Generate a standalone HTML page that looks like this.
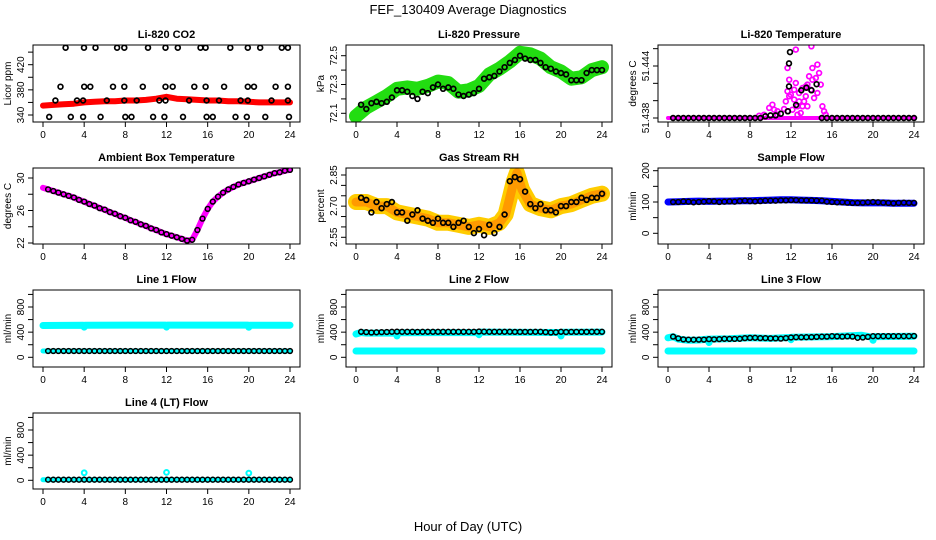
<!DOCTYPE html>
<html><head><meta charset="utf-8"><style>
html,body{margin:0;padding:0;background:#fff;}
svg{display:block;font-family:"Liberation Sans",Arial,sans-serif;}
</style></head><body>
<svg id="chart" width="936" height="540" viewBox="0 0 936 540" xmlns="http://www.w3.org/2000/svg">
<rect x="0" y="0" width="936" height="540" fill="#fff"/>
<text x="468" y="14" font-size="13" text-anchor="middle">FEF_130409  Average Diagnostics</text>
<text x="468" y="531" font-size="13" text-anchor="middle">Hour of Day (UTC)</text>
</svg>
<script>
// ---- shared data ----
const xTicks=[0,4,8,12,16,20,24];
const H48=[0.5,1,1.5,2,2.5,3,3.5,4,4.5,5,5.5,6,6.5,7,7.5,8,8.5,9,9.5,10,10.5,11,11.5,12,12.5,13,13.5,14,14.5,15,15.5,16,16.5,17,17.5,18,18.5,19,19.5,20,20.5,21,21.5,22,22.5,23,23.5,24];
const hourly=[0,1,2,3,4,5,6,7,8,9,10,11,12,13,14,15,16,17,18,19,20,21,22,23,24];

// CO2
const co2BandV=[355,356,357,358,360,361,362,362,363,363,364,366,369,366,365,364,363,363,362,362,361,360,360,360,360];
const co2H447=[2.2,3.98,5.1,7.2,7.9,10.2,11.9,13.1,15.3,15.8,18.2,19.9,21.1,23.2,23.8];
const co2H385=[1.7,4.0,4.6,6.8,7.9,9.7,11.9,12.6,14.7,15.8,17.6,19.9,20.5,22.6,23.8];
const co2H363=[1.2,3.3,3.9,6.2,7.9,9.1,11.3,11.9,14.2,15.9,17.1,19.2,19.9,22.2,23.8];
const co2H337=[0.6,2.7,3.9,5.6,8.0,8.6,10.7,11.8,13.6,15.9,16.5,18.7,19.8,21.6,23.9];
const co2Levels=[447,385,363,337];

// Pressure
const presBandV=[72.08,72.14,72.18,72.22,72.27,72.28,72.27,72.29,72.32,72.31,72.25,72.26,72.29,72.37,72.41,72.46,72.52,72.51,72.48,72.42,72.39,72.34,72.35,72.40,72.42];
const presV=[72.16,72.13,72.17,72.18,72.17,72.18,72.21,72.26,72.26,72.25,72.22,72.20,72.25,72.24,72.28,72.30,72.27,72.28,72.27,72.23,72.22,72.23,72.24,72.27,72.34,72.35,72.36,72.39,72.42,72.45,72.47,72.50,72.48,72.47,72.47,72.45,72.42,72.41,72.39,72.38,72.37,72.33,72.33,72.33,72.38,72.40,72.40,72.40];

// Li-820 Temperature
const tempMagH=[8.9,9.87,10.19,10.36,10.68,11.33,11.49,11.66,11.66,11.82,11.98,12.14,12.31,12.47,12.63,12.79,12.95,13.12,13.28,13.44,13.60,13.77,13.93,13.99,14.09,14.25,14.42,14.58,14.74,14.90,15.06,15.23,15.39,12.47,12.63,10.68,9.38,14.58,13.12,12.31,11.82,12.79,13.60,14.09,13.44,11.66];
const tempMagV=[51.43827,51.43916,51.43954,51.43896,51.43877,51.43904,51.43992,51.44108,51.44377,51.44242,51.44069,51.43896,51.44012,51.44204,51.43935,51.44088,51.43858,51.44146,51.43992,51.44050,51.44185,51.44281,51.44127,51.44627,51.44377,51.44031,51.44262,51.44416,51.44319,51.44185,51.43935,51.43877,51.43838,51.44589,51.43838,51.43838,51.43838,51.44088,51.43935,51.44127,51.44050,51.43992,51.43935,51.44242,51.44165,51.43877];
const tempBlkH=[0.5,1,1.5,2,2.5,3,3.5,4,4.5,5,5.5,6,6.5,7,7.5,8,8.5,9,9.5,10,10.5,11,11.7,11.8,11.8,11.9,12.5,13,13.5,14,14.5,15,15.5,16,16.5,17,17.5,18,18.5,19,19.5,20,20.5,21,21.5,22,22.5,23,23.5,24];
const tempBlkV=[51.438,51.438,51.438,51.438,51.438,51.438,51.438,51.438,51.438,51.438,51.438,51.438,51.438,51.438,51.438,51.438,51.438,51.438,51.4382,51.4383,51.4383,51.4385,51.43877,51.44165,51.4443,51.4456,51.4395,51.4412,51.4415,51.4412,51.4419,51.438,51.438,51.438,51.438,51.438,51.438,51.438,51.438,51.438,51.438,51.438,51.438,51.438,51.438,51.438,51.438,51.438,51.438,51.438];

// Ambient
const ambBandH=[0,0.5,1,1.5,2,2.5,3,3.5,4,4.5,5,5.5,6,6.5,7,7.5,8,8.5,9,9.5,10,10.5,11,11.5,12,12.5,13,13.5,14,14.5,15,15.5,16,16.5,17,17.5,18,18.5,19,19.5,20,20.5,21,21.5,22,22.5,23,23.5,24];
const ambV=[28.8,28.6,28.4,28.2,28.0,27.8,27.6,27.3,27.1,26.8,26.6,26.3,26.1,25.8,25.6,25.3,25.1,24.8,24.6,24.3,24.1,23.8,23.6,23.3,23.1,22.9,22.7,22.5,22.3,22.4,23.6,25.0,26.2,27.1,27.7,28.2,28.6,28.9,29.2,29.4,29.6,29.8,30.0,30.2,30.4,30.6,30.7,30.9,31.0];

// Gas stream RH
const rhBandH=[0,1,2,3,4,5,6,7,8,9,10,11,12,13,14,14.6,15,15.4,15.7,16.2,17,18,19,20,21,22,23,24];
const rhBandV=[2.72,2.72,2.70,2.70,2.67,2.66,2.65,2.64,2.62,2.62,2.61,2.60,2.61,2.60,2.62,2.66,2.74,2.82,2.86,2.78,2.71,2.69,2.68,2.70,2.71,2.73,2.75,2.76];
const rhV=[2.74,2.73,2.67,2.72,2.69,2.71,2.72,2.67,2.67,2.63,2.66,2.68,2.64,2.63,2.62,2.64,2.62,2.62,2.60,2.62,2.63,2.60,2.57,2.59,2.56,2.61,2.57,2.60,2.66,2.82,2.84,2.83,2.77,2.71,2.69,2.71,2.68,2.68,2.67,2.70,2.70,2.72,2.72,2.74,2.73,2.74,2.74,2.76];

// Sample flow
const sfBandV=[100,101,102,103,102,103,103,104,104,105,106,107,107,106,105,104,102,100,98,97,97,97,96,96,96];
const sfV=[100,100,102,101,99,100,101,103,102,100,101,102,101,103,104,103,102,103,104,104,104,105,105,106,106,105,105,105,104,104,101,100,99,99,98,97,97,98,99,100,99,98,97,96,97,98,97,97];

// Line 1
const l1HiH=[0,3.9,4,4.1,11.9,12,12.1,19.9,20,20.1,24];
const l1HiV=[505,510,480,510,512,480,512,512,478,510,510];
const l1LoV=[100,100,100,100,100,100,100,100,100,100,100,100,100,100,100,100,100,100,100,100,100,100,100,100,100];
const l1V=[100,100,100,100,100,100,100,100,100,100,100,100,100,100,100,100,100,100,100,100,100,100,100,100,100,100,100,100,100,100,100,100,100,100,100,100,100,100,100,100,100,100,100,100,100,100,100,100];
// Line 2
const l2HiH=[0,0.5,1,3.9,4,4.1,11.9,12,12.1,19.9,20,20.1,24];
const l2HiV=[370,395,385,385,340,390,395,360,400,395,340,398,400];
const l2LoV=[100,100,100,100,100,100,100,100,100,100,100,100,100,100,100,100,100,100,100,100,100,100,100,100,100];
const l2V=[405,400,395,398,400,402,405,408,405,405,405,404,405,406,405,405,405,405,406,406,405,406,406,410,407,406,406,405,405,405,404,404,404,404,405,405,400,395,398,405,403,404,404,404,404,405,405,405];
// Line 3
const l3HiH=[0,0.5,1,2,3,3.9,4,4.1,6,8,10,11.9,12,12.1,16,18.9,19.9,20,20.1,24];
const l3HiV=[310,330,290,270,275,290,235,290,295,310,300,315,280,320,330,350,320,270,330,335];
const l3LoV=[100,100,100,100,100,100,100,100,100,100,100,100,100,100,100,100,100,100,100,100,100,100,100,100,100];
const l3V=[330,300,285,280,280,282,282,290,285,290,295,292,293,295,305,308,310,305,305,300,300,298,305,315,320,318,320,322,325,328,330,335,332,330,332,330,310,315,325,335,335,335,335,335,335,335,335,338];
// Line 4
const l4BandV=[10,10,10,10,10,10,10,10,10,10,10,10,10,10,10,10,10,10,10,10,10,10,10,10,10];
const l4OutH=[4,12,20];
const l4OutV=[120,125,115];
const l4V=[10,10,10,10,10,10,10,10,10,10,10,10,10,10,10,10,10,10,10,10,10,10,10,10,10,10,10,10,10,10,10,10,10,10,10,10,10,10,10,10,10,10,10,10,10,10,10,10];

// ---- layout ----
const NS="http://www.w3.org/2000/svg";
const svg=document.getElementById('chart');
const COLS=[{l:33,r:300},{l:346,r:612},{l:658,r:924}];
const ROWS=[{t:45,b:122},{t:168,b:244},{t:290,b:367},{t:413,b:489}];
function mk(tag,attrs,parent){const e=document.createElementNS(NS,tag);for(const k in attrs)e.setAttribute(k,attrs[k]);(parent||svg).appendChild(e);return e;}
function xs(p,h){const c=COLS[p.col];return c.l+10+(h/24)*(c.r-c.l-20);}
function ys(p,v){return p.p0+(v-p.v0)*(p.p1-p.p0)/(p.v1-p.v0);}

const flowTicks=[0,200,400,600,800,1000];
const flowLabels=[0,400,800];
const panels=[
 {id:'co2',title:'Li-820 CO2',ylab:'Licor ppm',col:0,row:0,v0:340,p0:115,v1:420,p1:64.7,yt:[340,360,380,400,420,440],yl:['340','380','420']},
 {id:'pressure',title:'Li-820 Pressure',ylab:'kPa',col:1,row:0,v0:72.1,p0:113.3,v1:72.5,p1:55.7,yt:[72.1,72.2,72.3,72.4,72.5],yl:['72.1','72.3','72.5']},
 {id:'temperature',title:'Li-820 Temperature',ylab:'degrees C',col:2,row:0,v0:51.438,p0:118,v1:51.444,p1:66,yt:[51.438,51.440,51.442,51.444,51.446],yl:['51.438','51.444']},
 {id:'ambient',title:'Ambient Box Temperature',ylab:'degrees C',col:0,row:1,v0:22,p0:243,v1:30,p1:178,yt:[22,24,26,28,30],yl:['22','26','30']},
 {id:'rh',title:'Gas Stream RH',ylab:'percent',col:1,row:1,v0:2.55,p0:237.3,v1:2.85,p1:175,yt:[2.55,2.60,2.65,2.70,2.75,2.80,2.85],yl:['2.55','2.70','2.85']},
 {id:'sample-flow',title:'Sample Flow',ylab:'ml/min',col:2,row:1,v0:0,p0:233.3,v1:200,p1:170.7,yt:[0,50,100,150,200],yl:['0','100','200']},
 {id:'line1',title:'Line 1 Flow',ylab:'ml/min',col:0,row:2,v0:0,p0:357.3,v1:800,p1:307,yt:flowTicks,yl:flowLabels.map(String)},
 {id:'line2',title:'Line 2 Flow',ylab:'ml/min',col:1,row:2,v0:0,p0:357.3,v1:800,p1:307,yt:flowTicks,yl:flowLabels.map(String)},
 {id:'line3',title:'Line 3 Flow',ylab:'ml/min',col:2,row:2,v0:0,p0:357.3,v1:800,p1:307,yt:flowTicks,yl:flowLabels.map(String)},
 {id:'line4',title:'Line 4 (LT) Flow',ylab:'ml/min',col:0,row:3,v0:0,p0:480.3,v1:800,p1:430,yt:flowTicks,yl:flowLabels.map(String)}
];

function band(p,g,hs,vs,color,w,name){
  const pts=hs.map((h,i)=>xs(p,h).toFixed(1)+','+ys(p,vs[i]).toFixed(1)).join(' ');
  const e=mk('polyline',{points:pts,fill:'none',stroke:color,'stroke-width':w,'stroke-linejoin':'round','stroke-linecap':'round'},g);
  
  
}
function pts(p,g,hs,vs,color,name,sw){
  hs.forEach((h,i)=>{
    const c=mk('circle',{cx:xs(p,h).toFixed(1),cy:ys(p,vs[i]).toFixed(1),r:2.4,fill:'none',stroke:color,'stroke-width':sw||1.5},g);
    
    
  });
}

const groups={};
panels.forEach(p=>{
  const c=COLS[p.col],r=ROWS[p.row];
  const g=mk('g',{});
  
  
  const cp=mk('clipPath',{id:'clip-'+p.id},g);
  mk('rect',{x:c.l,y:r.t,width:c.r-c.l,height:r.b-r.t},cp);
  const t=mk('text',{x:(c.l+c.r)/2,y:r.t-7,'font-size':11,'font-weight':'bold','text-anchor':'middle'},g);
  t.textContent=p.title;
  
  
  const yl=mk('text',{x:0,y:0,'font-size':10,'text-anchor':'middle',transform:'translate('+(c.l-22)+','+((r.t+r.b)/2)+') rotate(-90)'},g);
  yl.textContent=p.ylab;
  
  
  // x axis
  const xa=mk('g',{stroke:'#000','stroke-width':1},g);
  
  
  mk('line',{x1:xs(p,0),x2:xs(p,24),y1:r.b,y2:r.b},xa);
  xTicks.forEach(h=>{
    mk('line',{x1:xs(p,h),x2:xs(p,h),y1:r.b,y2:r.b+5},xa);
    const tl=mk('text',{x:xs(p,h),y:r.b+16,'font-size':10,'text-anchor':'middle',stroke:'none',fill:'#000'},g);
    tl.textContent=String(h);
    
    
  });
  // y axis
  const ya=mk('g',{stroke:'#000','stroke-width':1},g);
  
  
  mk('line',{x1:c.l,x2:c.l,y1:ys(p,p.yt[0]),y2:ys(p,p.yt[p.yt.length-1])},ya);
  p.yt.forEach(v=>{mk('line',{x1:c.l-5,x2:c.l,y1:ys(p,v),y2:ys(p,v)},ya);});
  p.yl.forEach(s=>{
    const y=ys(p,parseFloat(s));
    const tl=mk('text',{x:0,y:0,'font-size':10,'text-anchor':'middle',transform:'translate('+(c.l-9)+','+y.toFixed(1)+') rotate(-90)'},g);
    tl.textContent=s;
    
    
  });
  const data=mk('g',{'clip-path':'url(#clip-'+p.id+')'},g);
  
  
  groups[p.id]={p:p,g:data};
  const box=mk('rect',{x:c.l,y:r.t,width:c.r-c.l,height:r.b-r.t,fill:'none',stroke:'#000','stroke-width':1},g);
  
  
});

let P;
// CO2
P=groups['co2'];
band(P.p,P.g,hourly,co2BandV,'#ff0000',6,'co2-band');
[co2H447,co2H385,co2H363,co2H337].forEach((hs,k)=>pts(P.p,P.g,hs,hs.map(()=>co2Levels[k]),'#000','co2-point',1.7));
// Pressure
P=groups['pressure'];
band(P.p,P.g,hourly,presBandV,'#22dd11',14,'pressure-band');
pts(P.p,P.g,H48,presV,'#000','pressure-point',1.7);
// Temperature
P=groups['temperature'];
band(P.p,P.g,[0,24],[51.438,51.438],'#ff00ff',4,'temp-baseline');
pts(P.p,P.g,tempMagH,tempMagV,'#ff00ff','temp-scatter',1.7);
pts(P.p,P.g,tempBlkH,tempBlkV,'#000','temp-point',1.7);
// Ambient
P=groups['ambient'];
band(P.p,P.g,ambBandH,ambV,'#ff00ff',6,'ambient-band');
pts(P.p,P.g,H48,ambV.slice(1),'#000','ambient-point',1.5);
// RH
P=groups['rh'];
band(P.p,P.g,rhBandH,rhBandV,'#ffcc00',16,'rh-band');
band(P.p,P.g,rhBandH,rhBandV,'#ff9a00',9,'rh-band-core');
pts(P.p,P.g,H48,rhV,'#000','rh-point',1.7);
// Sample flow
P=groups['sample-flow'];
band(P.p,P.g,hourly,sfBandV,'#0000ff',7,'sample-flow-band');
pts(P.p,P.g,H48,sfV,'#000','sample-flow-point',1.5);
// Line 1
P=groups['line1'];
band(P.p,P.g,l1HiH,l1HiV,'#00ffff',7,'line1-high-band');
band(P.p,P.g,hourly,l1LoV,'#00ffff',5,'line1-low-band');
pts(P.p,P.g,H48,l1V,'#000','line1-point',1.5);
// Line 2
P=groups['line2'];
band(P.p,P.g,l2HiH,l2HiV,'#00ffff',7,'line2-high-band');
band(P.p,P.g,hourly,l2LoV,'#00ffff',7,'line2-low-band');
pts(P.p,P.g,H48,l2V,'#000','line2-point',1.5);
// Line 3
P=groups['line3'];
band(P.p,P.g,l3HiH,l3HiV,'#00ffff',7,'line3-high-band');
band(P.p,P.g,hourly,l3LoV,'#00ffff',7,'line3-low-band');
pts(P.p,P.g,H48,l3V,'#000','line3-point',1.5);
// Line 4
P=groups['line4'];
band(P.p,P.g,hourly,l4BandV,'#00ffff',5,'line4-band');
pts(P.p,P.g,l4OutH,l4OutV,'#00ffff','line4-outlier',2);
pts(P.p,P.g,H48,l4V,'#000','line4-point',1.5);
</script>
</body></html>
